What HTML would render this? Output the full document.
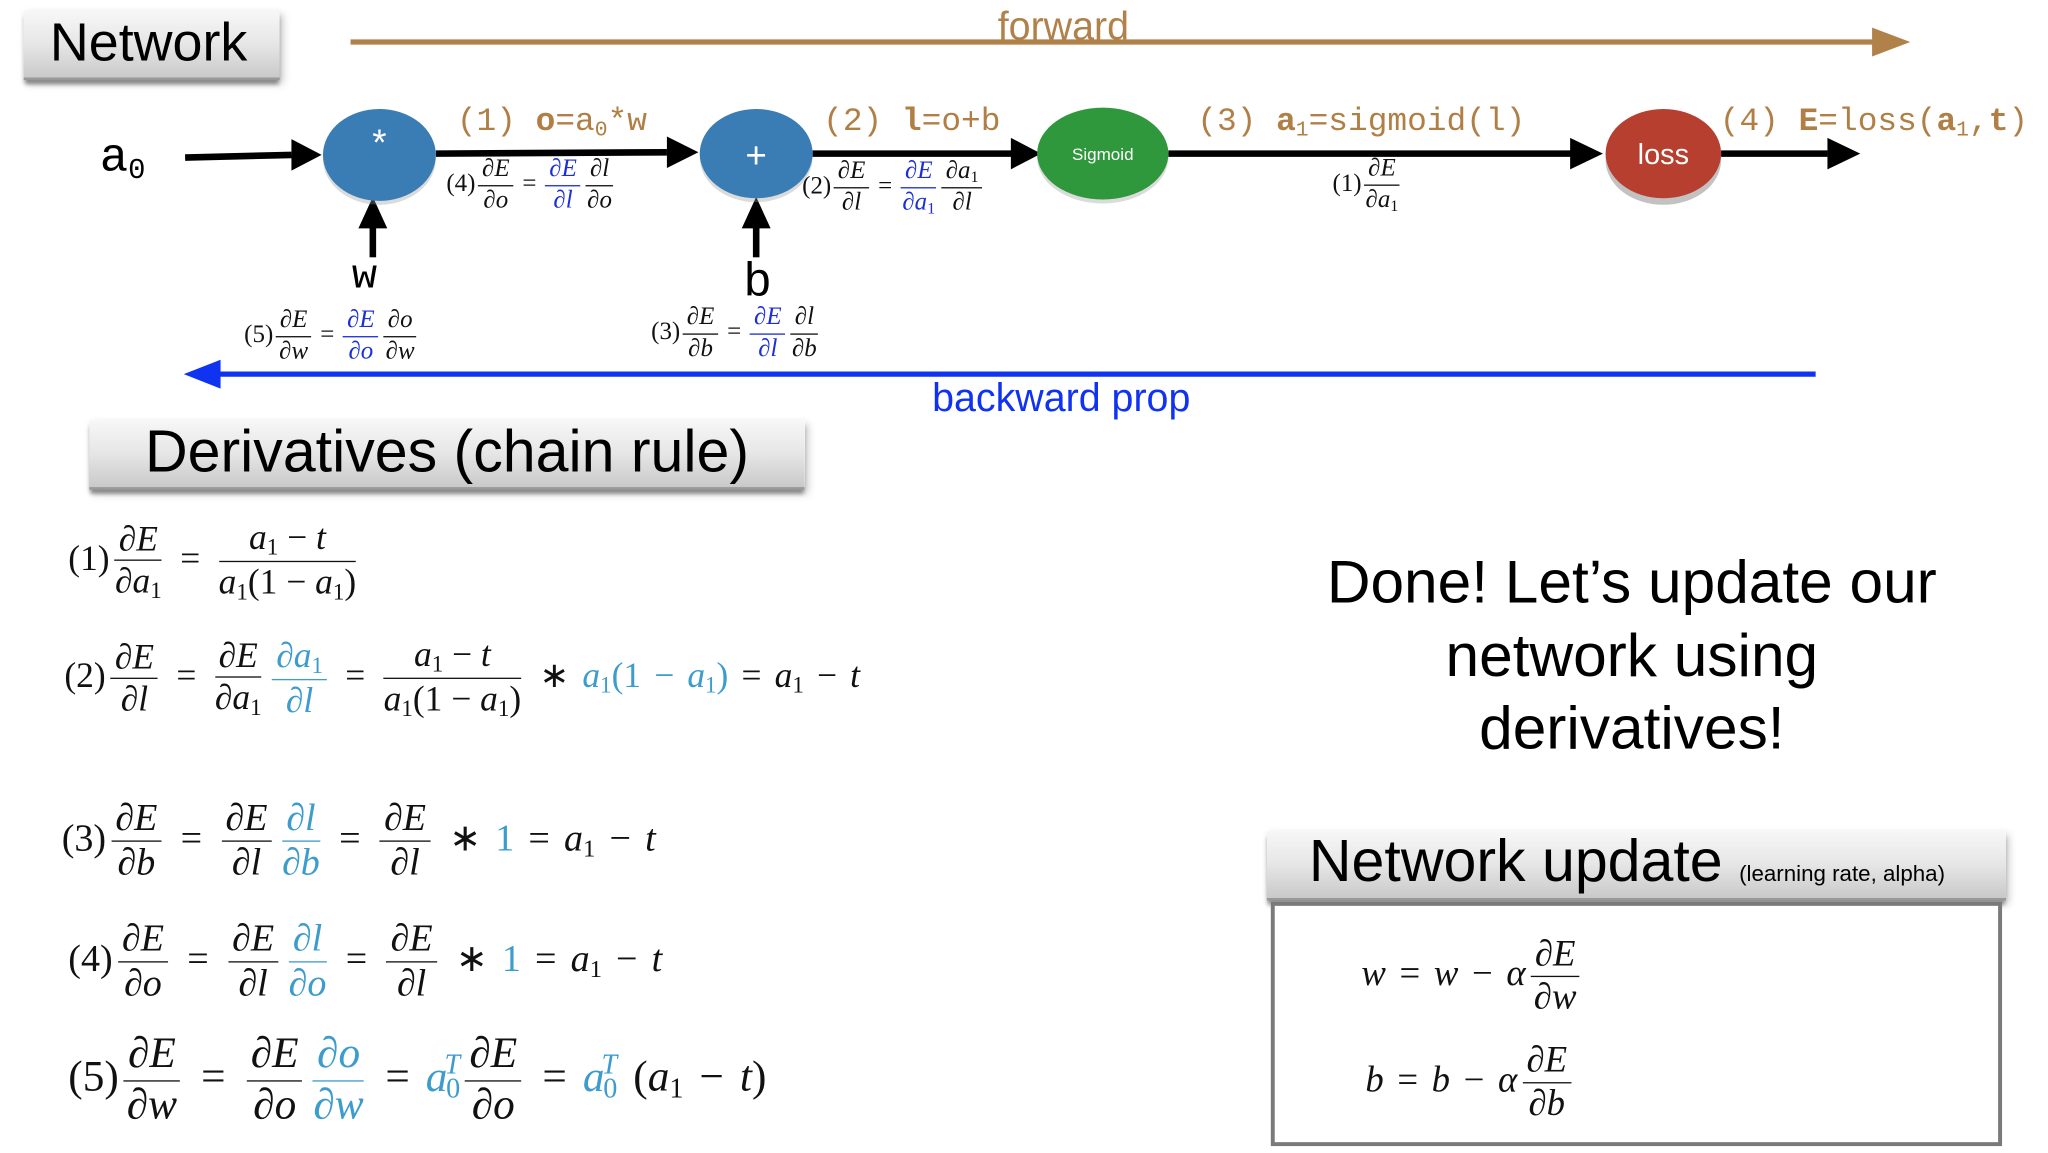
<!DOCTYPE html>
<html><head><meta charset="utf-8">
<style>
html,body{margin:0;padding:0;background:#fff;width:2048px;height:1152px;overflow:hidden}
#s{position:absolute;left:0;top:0;width:1560px;height:878px;transform:scale(1.31282);transform-origin:0 0}
.a{position:absolute;white-space:nowrap}
.m{font-family:"Liberation Serif",serif;color:#111;transform:translateY(-50%);word-spacing:.12em}
.m i{font-style:italic}
.fr{display:inline-flex;flex-direction:column;vertical-align:middle;text-align:center;line-height:1.08;margin:0 4px;word-spacing:0}
.fr>span:first-child{border-bottom:1.4px solid currentColor;padding:0 3px 1px}
.fr>span:last-child{padding-top:1px}
.b1{color:#1c2fd6}
.b2{color:#3d9ccc}
sub{font-size:65%;vertical-align:-0.25em;font-style:normal}
sup{font-size:65%;vertical-align:0.6em}
.box{position:absolute;background:linear-gradient(#f7f7f7,#e6e6e6 50%,#c9c9c9);box-shadow:0 4px 3px -1px #888, 2px 3px 6px rgba(0,0,0,.25);border-bottom:2px solid #999}
.sans{font-family:"Liberation Sans",sans-serif}
.mono{font-family:"Liberation Mono",monospace}
.br{color:#b07f45}
.sm{word-spacing:0}
.sm .fr{margin:0 2px}
</style></head><body>
<div id="s">
<svg width="1560" height="878" style="position:absolute;left:0;top:0">
<line x1="267" y1="32" x2="1432" y2="32" stroke="#b08149" stroke-width="4"/>
<polygon points="1426,21 1455,32 1426,43" fill="#b08149"/>
<line x1="1383" y1="285" x2="162" y2="285" stroke="#0f33f0" stroke-width="4"/>
<polygon points="168,274 140,285 168,296" fill="#0f33f0"/>
<g stroke="#000" stroke-width="5">
<line x1="141" y1="120" x2="222" y2="118"/>
<line x1="332" y1="117" x2="508" y2="116"/>
<line x1="619" y1="117" x2="772" y2="117"/>
<line x1="890" y1="117" x2="1198" y2="117"/>
<line x1="1311" y1="117" x2="1392" y2="117"/>
<line x1="284" y1="196" x2="284" y2="172"/>
<line x1="576" y1="196" x2="576" y2="172"/>
</g>
<g fill="#000">
<polygon points="222,106 245,118 222,130"/>
<polygon points="508,104 532,116 508,128"/>
<polygon points="770,105 793,117 770,129"/>
<polygon points="1196,105 1221,117 1196,129"/>
<polygon points="1392,105 1417,117 1392,129"/>
<polygon points="273,174 284,150 295,174"/>
<polygon points="565,174 576,150 587,174"/>
</g>
<ellipse cx="289" cy="121" rx="43" ry="35" fill="#999" opacity=".35"/>
<ellipse cx="289" cy="118" rx="43" ry="35" fill="#3a7db4"/>
<ellipse cx="576" cy="120" rx="43" ry="34" fill="#999" opacity=".35"/>
<ellipse cx="576" cy="117" rx="43" ry="34" fill="#3a7db4"/>
<ellipse cx="840" cy="120" rx="50" ry="35" fill="#999" opacity=".35"/>
<ellipse cx="840" cy="117" rx="50" ry="35" fill="#2f983d"/>
<ellipse cx="1267" cy="122" rx="44" ry="34" fill="#777" opacity=".45"/>
<ellipse cx="1267" cy="117" rx="44" ry="34" fill="#b63f2f"/>
<g font-family="Liberation Sans,sans-serif" fill="#fff" text-anchor="middle">
<text x="289" y="118" font-size="28">*</text>
<text x="576" y="128" font-size="28">+</text>
<text x="840" y="122" font-size="13">Sigmoid</text>
<text x="1267" y="125" font-size="22">loss</text>
</g>
<text x="810" y="30" font-family="Liberation Sans,sans-serif" font-size="30" fill="#b08149" text-anchor="middle">forward</text>
<text x="710" y="313" font-family="Liberation Sans,sans-serif" font-size="30" fill="#0f33f0">backward prop</text>
</svg>

<div class="box" style="left:18px;top:8px;width:195px;height:51px"></div>
<div class="a sans" style="left:38px;top:9px;font-size:41px">Network</div>

<div class="a mono" style="left:76px;top:100px;font-size:36px">a<sub style="font-size:22px">0</sub></div>
<div class="a mono" style="left:268px;top:192px;font-size:32px">w</div>
<div class="a sans" style="left:567px;top:192px;font-size:36px">b</div>

<div class="a mono br" style="left:348px;top:78px;font-size:25px">(1) <b>o</b>=a<sub>0</sub>*w</div>
<div class="a mono br" style="left:627px;top:78px;font-size:25px">(2) <b>l</b>=o+b</div>
<div class="a mono br" style="left:912px;top:78px;font-size:25px">(3) <b>a</b><sub>1</sub>=sigmoid(l)</div>
<div class="a mono br" style="left:1310px;top:78px;font-size:25px">(4) <b>E</b>=loss(<b>a</b><sub>1</sub>,<b>t</b>)</div>

<div class="a m sm" style="left:340px;top:141px;font-size:19px">(4)<span class="fr"><span>∂<i>E</i></span><span>∂<i>o</i></span></span> = <span class="fr b1"><span>∂<i>E</i></span><span>∂<i>l</i></span></span><span class="fr"><span>∂<i>l</i></span><span>∂<i>o</i></span></span></div>
<div class="a m sm" style="left:611px;top:143px;font-size:19px">(2)<span class="fr"><span>∂<i>E</i></span><span>∂<i>l</i></span></span> = <span class="fr b1"><span>∂<i>E</i></span><span>∂<i>a</i><sub>1</sub></span></span><span class="fr"><span>∂<i>a</i><sub>1</sub></span><span>∂<i>l</i></span></span></div>
<div class="a m sm" style="left:1015px;top:141px;font-size:19px">(1)<span class="fr"><span>∂<i>E</i></span><span>∂<i>a</i><sub>1</sub></span></span></div>
<div class="a m sm" style="left:186px;top:256px;font-size:19px">(5)<span class="fr"><span>∂<i>E</i></span><span>∂<i>w</i></span></span> = <span class="fr b1"><span>∂<i>E</i></span><span>∂<i>o</i></span></span><span class="fr"><span>∂<i>o</i></span><span>∂<i>w</i></span></span></div>
<div class="a m sm" style="left:496px;top:254px;font-size:19px">(3)<span class="fr"><span>∂<i>E</i></span><span>∂<i>b</i></span></span> = <span class="fr b1"><span>∂<i>E</i></span><span>∂<i>l</i></span></span><span class="fr"><span>∂<i>l</i></span><span>∂<i>b</i></span></span></div>

<div class="box" style="left:68px;top:320px;width:545px;height:51px"></div>
<div class="a sans" style="left:68px;top:318px;width:545px;text-align:center;font-size:45px">Derivatives (chain rule)</div>

<div class="a m" style="left:52px;top:428px;font-size:27px">(1)<span class="fr"><span>∂<i>E</i></span><span>∂<i>a</i><sub>1</sub></span></span> = <span class="fr"><span><i>a</i><sub>1</sub> − <i>t</i></span><span><i>a</i><sub>1</sub>(1 − <i>a</i><sub>1</sub>)</span></span></div>
<div class="a m" style="left:49px;top:517px;font-size:27px">(2)<span class="fr"><span>∂<i>E</i></span><span>∂<i>l</i></span></span> = <span class="fr"><span>∂<i>E</i></span><span>∂<i>a</i><sub>1</sub></span></span><span class="fr b2"><span>∂<i>a</i><sub>1</sub></span><span>∂<i>l</i></span></span> = <span class="fr"><span><i>a</i><sub>1</sub> − <i>t</i></span><span><i>a</i><sub>1</sub>(1 − <i>a</i><sub>1</sub>)</span></span> ∗ <span class="b2"><i>a</i><sub>1</sub>(1 − <i>a</i><sub>1</sub>)</span> = <i>a</i><sub>1</sub> − <i>t</i></div>
<div class="a m" style="left:47px;top:641px;font-size:29px">(3)<span class="fr"><span>∂<i>E</i></span><span>∂<i>b</i></span></span> = <span class="fr"><span>∂<i>E</i></span><span>∂<i>l</i></span></span><span class="fr b2"><span>∂<i>l</i></span><span>∂<i>b</i></span></span> = <span class="fr"><span>∂<i>E</i></span><span>∂<i>l</i></span></span> ∗ <span class="b2">1</span> = <i>a</i><sub>1</sub> − <i>t</i></div>
<div class="a m" style="left:52px;top:733px;font-size:29px">(4)<span class="fr"><span>∂<i>E</i></span><span>∂<i>o</i></span></span> = <span class="fr"><span>∂<i>E</i></span><span>∂<i>l</i></span></span><span class="fr b2"><span>∂<i>l</i></span><span>∂<i>o</i></span></span> = <span class="fr"><span>∂<i>E</i></span><span>∂<i>l</i></span></span> ∗ <span class="b2">1</span> = <i>a</i><sub>1</sub> − <i>t</i></div>
<div class="a m" style="left:52px;top:823px;font-size:33px">(5)<span class="fr"><span>∂<i>E</i></span><span>∂<i>w</i></span></span> = <span class="fr"><span>∂<i>E</i></span><span>∂<i>o</i></span></span><span class="fr b2"><span>∂<i>o</i></span><span>∂<i>w</i></span></span> = <span class="b2"><i>a</i><sub style="margin-left:-1px">0</sub><sup style="margin-left:-12px"><i>T</i></sup></span><span class="fr"><span>∂<i>E</i></span><span>∂<i>o</i></span></span> = <span class="b2"><i>a</i><sub style="margin-left:-1px">0</sub><sup style="margin-left:-12px"><i>T</i></sup></span> (<i>a</i><sub>1</sub> − <i>t</i>)</div>

<div class="a sans" style="left:943px;top:416px;width:600px;text-align:center;font-size:46px;line-height:55.5px">Done! Let’s update our<br>network using<br>derivatives!</div>

<div class="box" style="left:965px;top:633px;width:563px;height:51px"></div>
<div class="a sans" style="left:997px;top:630px;font-size:45px">Network update <span style="font-size:17px">(learning rate, alpha)</span></div>
<div class="a" style="left:968px;top:687px;width:551px;height:180px;border:3px solid #7a7a7a;background:#fff"></div>
<div class="a m" style="left:1037px;top:744px;font-size:28px"><i>w</i> = <i>w</i> − <i>α</i><span class="fr"><span>∂<i>E</i></span><span>∂<i>w</i></span></span></div>
<div class="a m" style="left:1040px;top:825px;font-size:28px"><i>b</i> = <i>b</i> − <i>α</i><span class="fr"><span>∂<i>E</i></span><span>∂<i>b</i></span></span></div>
</div>
</body></html>
